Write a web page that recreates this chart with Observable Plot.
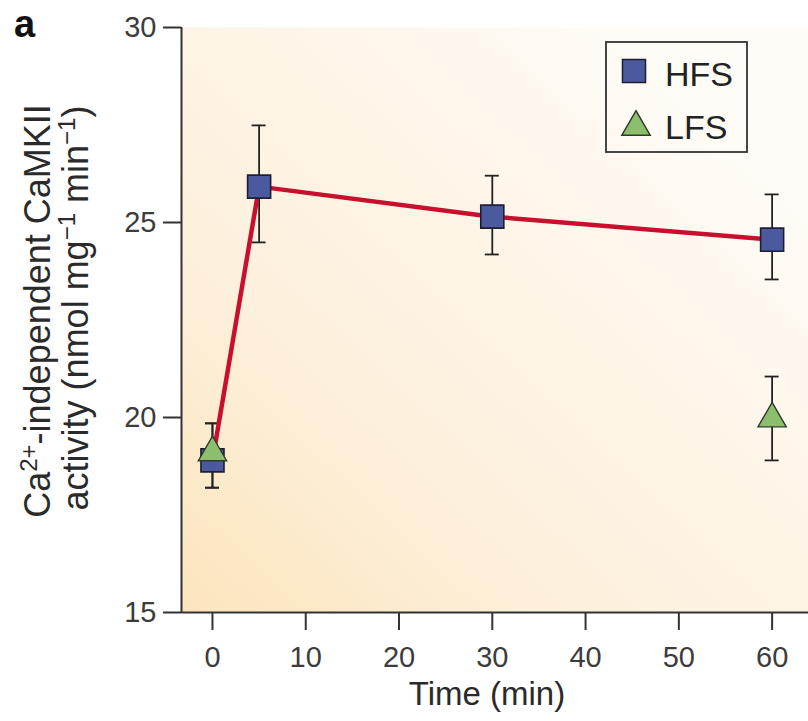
<!DOCTYPE html>
<html><head><meta charset="utf-8">
<script src="https://cdn.jsdelivr.net/npm/d3@7"></script>
<script src="https://cdn.jsdelivr.net/npm/@observablehq/plot@0.6"></script>
<style>
  body { margin: 0; background: #ffffff; }
  #chart svg { display: block; }
</style>
</head><body><div id="chart"></div>
<script>
// ---- data ----
const hfsTimes = [0, 5, 30, 60];
const hfsMean  = [18.9, 25.92, 25.15, 24.56];
const hfsLow   = [18.2, 24.49, 24.18, 23.54];
const hfsHigh  = [19.85, 27.49, 26.2, 25.72];

const lfsTimes = [0, 60];
const lfsMean  = [19.1, 19.97];
const lfsLow   = [18.2, 18.9];
const lfsHigh  = [19.85, 21.05];

const seriesNames = ["HFS", "LFS"];
const xTicks = [0, 10, 20, 30, 40, 50, 60];
const yTicks = [15, 20, 25, 30];
const xLabel = "Time (min)";
const panelLabel = "a";

// ---- tables built from the arrays ----
const hfs = hfsTimes.map((t, i) => ({t, v: hfsMean[i], lo: hfsLow[i], hi: hfsHigh[i]}));
const lfs = lfsTimes.map((t, i) => ({t, v: lfsMean[i], lo: lfsLow[i], hi: lfsHigh[i]}));
const bars = hfs.concat(lfs);

const FONT = "'Liberation Sans', Arial, Helvetica, sans-serif";
const sqFill = "#4b5a9f", sqStroke = "#1c1f33";
const trFill = "#8cbe6d", trStroke = "#2f3a2a";
const lineColor = "#c8102e";
const capHalf = 0.75;

const chart = Plot.plot({
  width: 808,
  height: 721,
  marginLeft: 181,
  marginRight: 0,
  marginTop: 27,
  marginBottom: 109,
  style: {fontFamily: FONT, background: "transparent", overflow: "visible"},
  x: {domain: [-3.32, 63.9]},
  y: {domain: [15, 30]},
  marks: [
    Plot.frame({fill: "url(#bgGrad)", stroke: "none"}),
    Plot.ruleX(bars, {x: "t", y1: "lo", y2: "hi", stroke: "#222", strokeWidth: 1.8}),
    Plot.ruleY(bars, {y: "lo", x1: d => d.t - capHalf, x2: d => d.t + capHalf, stroke: "#222", strokeWidth: 1.8}),
    Plot.ruleY(bars, {y: "hi", x1: d => d.t - capHalf, x2: d => d.t + capHalf, stroke: "#222", strokeWidth: 1.8}),
    Plot.line(hfs, {x: "t", y: "v", stroke: lineColor, strokeWidth: 4.5}),
    Plot.dot(hfs, {x: "t", y: "v", symbol: "square", r: 13, fill: sqFill, stroke: sqStroke, strokeWidth: 1.6}),
    Plot.dot(lfs, {x: "t", y: "v", symbol: "triangle", r: 10.5, fill: trFill, stroke: trStroke, strokeWidth: 1.4}),
    Plot.ruleX([-3.32], {stroke: "#333", strokeWidth: 2}),
    Plot.ruleY([15], {stroke: "#333", strokeWidth: 2}),
    Plot.axisX({ticks: xTicks, tickSize: 18, tickPadding: 16, fontSize: 29, label: null, stroke: "#333", fill: "#3c3c3c", strokeWidth: 2}),
    Plot.axisY({ticks: yTicks, tickSize: 18, tickPadding: 7, fontSize: 29, label: null, stroke: "#333", fill: "#3c3c3c", strokeWidth: 2})
  ]
});

const svg = d3.select(chart);
const defs = svg.insert("defs", ":first-child");
const grad = defs.append("linearGradient").attr("id", "bgGrad")
  .attr("x1", 0).attr("y1", 1).attr("x2", 0.9).attr("y2", 0.1);
grad.append("stop").attr("offset", 0).attr("stop-color", "#fce5bd");
grad.append("stop").attr("offset", 0.35).attr("stop-color", "#fdf0dc");
grad.append("stop").attr("offset", 1).attr("stop-color", "#fffcf8");

// panel letter
svg.append("text").attr("x", 14).attr("y", 37).attr("text-anchor", "start")
  .attr("font-family", FONT).attr("font-weight", "bold").attr("font-size", 38)
  .attr("fill", "#111").text(panelLabel);

// x axis title
svg.append("text").attr("x", 487).attr("y", 705).attr("text-anchor", "middle")
  .attr("font-family", FONT).attr("font-size", 33).attr("fill", "#2a2a2a").text(xLabel);

// y axis title (two lines with superscripts)
const yl = svg.append("g").attr("font-family", FONT).attr("font-size", 36).attr("fill", "#2a2a2a");
const l1 = yl.append("text").attr("transform", "translate(50,311) rotate(-90)").attr("text-anchor", "middle");
l1.append("tspan").text("Ca");
l1.append("tspan").attr("dy", -13).attr("font-size", 24).text("2+");
l1.append("tspan").attr("dy", 13).text("-independent CaMKII");
const l2 = yl.append("text").attr("transform", "translate(88,308) rotate(-90)").attr("text-anchor", "middle");
l2.append("tspan").text("activity (nmol mg");
l2.append("tspan").attr("dy", -13).attr("font-size", 24).text("\u22121");
l2.append("tspan").attr("dy", 13).text(" min");
l2.append("tspan").attr("dy", -13).attr("font-size", 24).text("\u22121");
l2.append("tspan").attr("dy", 13).text(")");

// legend
const lg = svg.append("g").attr("font-family", FONT).attr("text-anchor", "start");
lg.append("rect").attr("x", 606).attr("y", 42).attr("width", 141).attr("height", 110)
  .attr("fill", "none").attr("stroke", "#333").attr("stroke-width", 1.8);
const legendItems = [
  {name: seriesNames[0], sym: d3.symbolSquare, size: Math.PI * 13 * 13, fill: sqFill, stroke: sqStroke, cx: 634, cy: 71, ty: 86},
  {name: seriesNames[1], sym: d3.symbolTriangle, size: Math.PI * 10.5 * 10.5, fill: trFill, stroke: trStroke, cx: 636, cy: 127, ty: 139}
];
for (const it of legendItems) {
  lg.append("path").attr("d", d3.symbol(it.sym, it.size)())
    .attr("transform", `translate(${it.cx},${it.cy})`)
    .attr("fill", it.fill).attr("stroke", it.stroke).attr("stroke-width", 1.5);
  lg.append("text").attr("x", 665).attr("y", it.ty).attr("font-size", 34)
    .attr("text-anchor", "start").attr("fill", "#222").text(it.name);
}

document.getElementById("chart").appendChild(chart);
</script>
</body></html>
